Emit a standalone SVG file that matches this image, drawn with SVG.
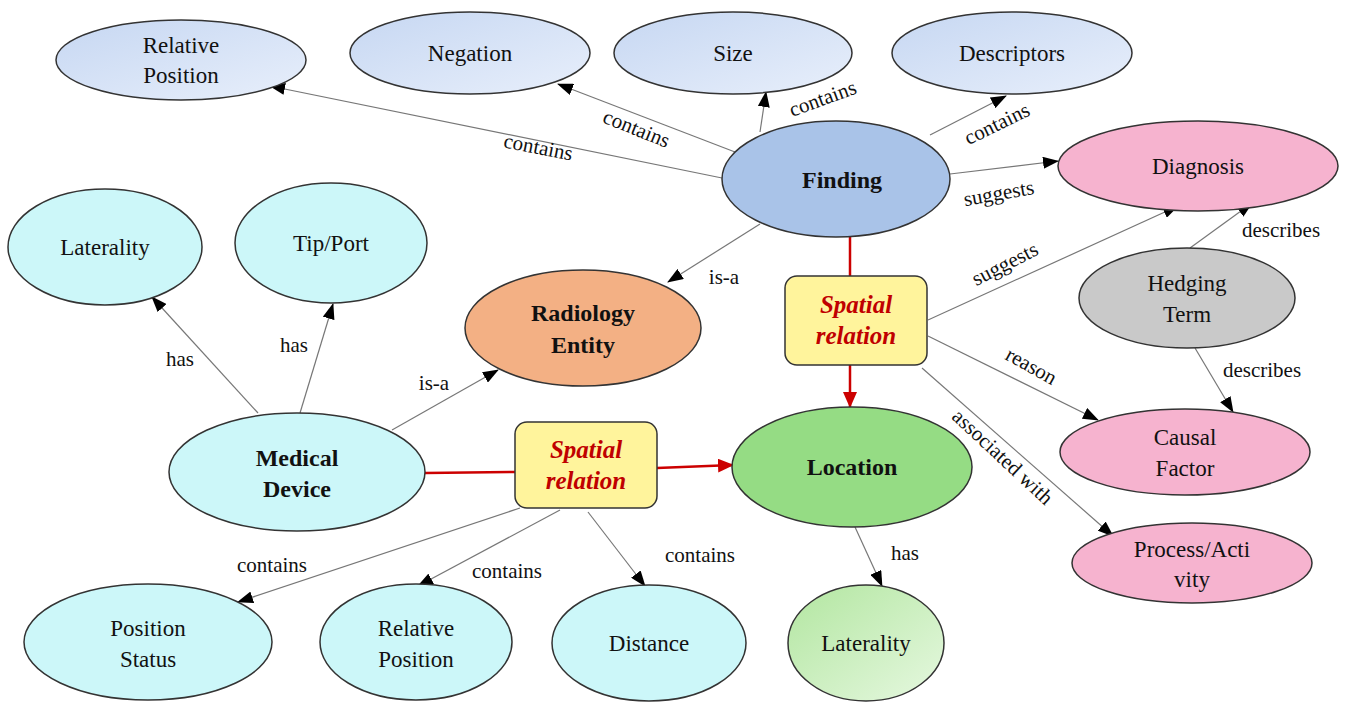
<svg xmlns="http://www.w3.org/2000/svg" width="1353" height="705" viewBox="0 0 1353 705">
<defs>
<marker id="ah" markerUnits="userSpaceOnUse" markerWidth="16" markerHeight="12" refX="15" refY="6" orient="auto"><path d="M0,0 L16,6 L0,12 Z" fill="#000"/></marker>
<marker id="ahr" markerUnits="userSpaceOnUse" markerWidth="16" markerHeight="14" refX="15" refY="7" orient="auto"><path d="M0,0 L16,7 L0,14 Z" fill="#cc0000"/></marker>
<linearGradient id="gblue" x1="0" y1="0" x2="1" y2="1"><stop offset="0" stop-color="#c6d7f2"/><stop offset="1" stop-color="#e8effb"/></linearGradient>
<linearGradient id="ggreen" x1="0" y1="0" x2="1" y2="1"><stop offset="0" stop-color="#b2e6a0"/><stop offset="1" stop-color="#e6f8e0"/></linearGradient>
<style>
text{font-family:'Times New Roman','Liberation Serif','Noto Serif','DejaVu Serif',Georgia,serif}
.n{stroke:#333;stroke-width:1.5}
.t{font-size:23px;fill:#111;text-anchor:middle}
.b{font-weight:bold;font-size:24px}
.s{font-size:25px;fill:#c00000;font-weight:bold;font-style:italic;text-anchor:middle}
.l{font-size:21px;fill:#111;text-anchor:middle}
.e{stroke:#777;stroke-width:1.2;fill:none;marker-end:url(#ah)}
.r{stroke:#cc0000;stroke-width:2.5;fill:none}
.blue{fill:url(#gblue)}
.cyan{fill:#ccf7f9}
.pink{fill:#f6b3cf}
</style>
</defs>
<rect width="1353" height="705" fill="#fff"/>
<g id="connectors">
<line class="e" x1="722" y1="178" x2="270" y2="86"/>
<line class="e" x1="735" y1="152" x2="558" y2="84"/>
<line class="e" x1="760" y1="132" x2="766" y2="92"/>
<line class="e" x1="930" y1="135" x2="1006" y2="96"/>
<line class="e" x1="950" y1="174" x2="1058" y2="161"/>
<line class="e" x1="760" y1="224" x2="668" y2="282"/>
<line class="r" x1="850" y1="237" x2="850" y2="276"/>
<line class="r" x1="850" y1="365" x2="850" y2="407" marker-end="url(#ahr)"/>
<line class="e" x1="928" y1="320" x2="1178" y2="206"/>
<line class="e" x1="1190" y1="248" x2="1252" y2="203"/>
<line class="e" x1="1195" y1="348" x2="1233" y2="412"/>
<line class="e" x1="928" y1="336" x2="1098" y2="420"/>
<line class="e" x1="922" y1="368" x2="1113" y2="536"/>
<line class="e" x1="258" y1="413" x2="152" y2="297"/>
<line class="e" x1="300" y1="413" x2="333" y2="304"/>
<line class="e" x1="392" y1="430" x2="498" y2="370"/>
<line class="r" x1="425" y1="473" x2="515" y2="472"/>
<line class="r" x1="657" y1="468" x2="733" y2="465" marker-end="url(#ahr)"/>
<line class="e" x1="520" y1="508" x2="238" y2="602"/>
<line class="e" x1="560" y1="510" x2="418" y2="586"/>
<line class="e" x1="588" y1="512" x2="645" y2="586"/>
<line class="e" x1="855" y1="527" x2="882" y2="586"/>
<text class="l" transform="translate(537,154) rotate(11)">contains</text>
<text class="l" transform="translate(634,135) rotate(22)">contains</text>
<text class="l" transform="translate(825,105) rotate(-20)">contains</text>
<text class="l" transform="translate(1000,130) rotate(-26)">contains</text>
<text class="l" transform="translate(1000,200) rotate(-10)">suggests</text>
<text class="l" x="724" y="284">is-a</text>
<text class="l" transform="translate(1008,270) rotate(-27)">suggests</text>
<text class="l" x="1281" y="237">describes</text>
<text class="l" x="1262" y="377">describes</text>
<text class="l" transform="translate(1028,372) rotate(29)">reason</text>
<text class="l" transform="translate(998,462) rotate(43)">associated with</text>
<text class="l" x="180" y="366">has</text>
<text class="l" x="294" y="352">has</text>
<text class="l" x="434" y="390">is-a</text>
<text class="l" x="272" y="572">contains</text>
<text class="l" x="507" y="578">contains</text>
<text class="l" x="700" y="562">contains</text>
<text class="l" x="905" y="560">has</text>
</g>
<g id="relpos-top"><ellipse class="n blue" cx="181" cy="60" rx="125" ry="40"/><text class="t" x="181" y="53">Relative</text><text class="t" x="181" y="83">Position</text></g>
<g id="negation"><ellipse class="n blue" cx="470" cy="53" rx="120" ry="41"/><text class="t" x="470" y="61">Negation</text></g>
<g id="size"><ellipse class="n blue" cx="733" cy="53" rx="119" ry="41"/><text class="t" x="733" y="61">Size</text></g>
<g id="descriptors"><ellipse class="n blue" cx="1012" cy="53" rx="120" ry="41"/><text class="t" x="1012" y="61">Descriptors</text></g>
<g id="finding"><ellipse class="n" fill="#a9c3e8" cx="836" cy="179" rx="114" ry="58"/><text class="t b" x="842" y="188">Finding</text></g>
<g id="diagnosis"><ellipse class="n pink" cx="1198" cy="166" rx="140" ry="45"/><text class="t" x="1198" y="174">Diagnosis</text></g>
<g id="laterality-left"><ellipse class="n cyan" cx="105" cy="247" rx="97" ry="58"/><text class="t" x="105" y="255">Laterality</text></g>
<g id="tipport"><ellipse class="n cyan" cx="331" cy="243" rx="96" ry="60"/><text class="t" x="331" y="251">Tip/Port</text></g>
<g id="radiology-entity"><ellipse class="n" fill="#f3b084" cx="583" cy="328" rx="118" ry="58"/><text class="t b" x="583" y="321">Radiology</text><text class="t b" x="583" y="353">Entity</text></g>
<g id="spatial-top"><rect class="n" fill="#fff49c" x="785" y="276" width="142" height="89" rx="12"/><text class="s" x="856" y="313">Spatial</text><text class="s" x="856" y="344">relation</text></g>
<g id="hedging"><ellipse class="n" fill="#c9c9c9" cx="1187" cy="298" rx="108" ry="50"/><text class="t" x="1187" y="291">Hedging</text><text class="t" x="1187" y="322">Term</text></g>
<g id="medical-device"><ellipse class="n cyan" cx="297" cy="472" rx="128" ry="59"/><text class="t b" x="297" y="466">Medical</text><text class="t b" x="297" y="497">Device</text></g>
<g id="spatial-bottom"><rect class="n" fill="#fff49c" x="515" y="422" width="142" height="86" rx="12"/><text class="s" x="586" y="458">Spatial</text><text class="s" x="586" y="489">relation</text></g>
<g id="location"><ellipse class="n" fill="#95dc84" cx="852" cy="467" rx="120" ry="60"/><text class="t b" x="852" y="475">Location</text></g>
<g id="causal-factor"><ellipse class="n pink" cx="1185" cy="452" rx="125" ry="43"/><text class="t" x="1185" y="445">Causal</text><text class="t" x="1185" y="476">Factor</text></g>
<g id="process-activity"><ellipse class="n pink" cx="1192" cy="563" rx="120" ry="40"/><text class="t" x="1192" y="557">Process/Acti</text><text class="t" x="1192" y="587">vity</text></g>
<g id="position-status"><ellipse class="n cyan" cx="148" cy="642" rx="124" ry="58"/><text class="t" x="148" y="636">Position</text><text class="t" x="148" y="667">Status</text></g>
<g id="relpos-bottom"><ellipse class="n cyan" cx="416" cy="642" rx="96" ry="58"/><text class="t" x="416" y="636">Relative</text><text class="t" x="416" y="667">Position</text></g>
<g id="distance"><ellipse class="n cyan" cx="649" cy="643" rx="97" ry="58"/><text class="t" x="649" y="651">Distance</text></g>
<g id="laterality-bottom"><ellipse class="n" fill="url(#ggreen)" cx="866" cy="643" rx="78" ry="58"/><text class="t" x="866" y="651">Laterality</text></g>
</svg>
